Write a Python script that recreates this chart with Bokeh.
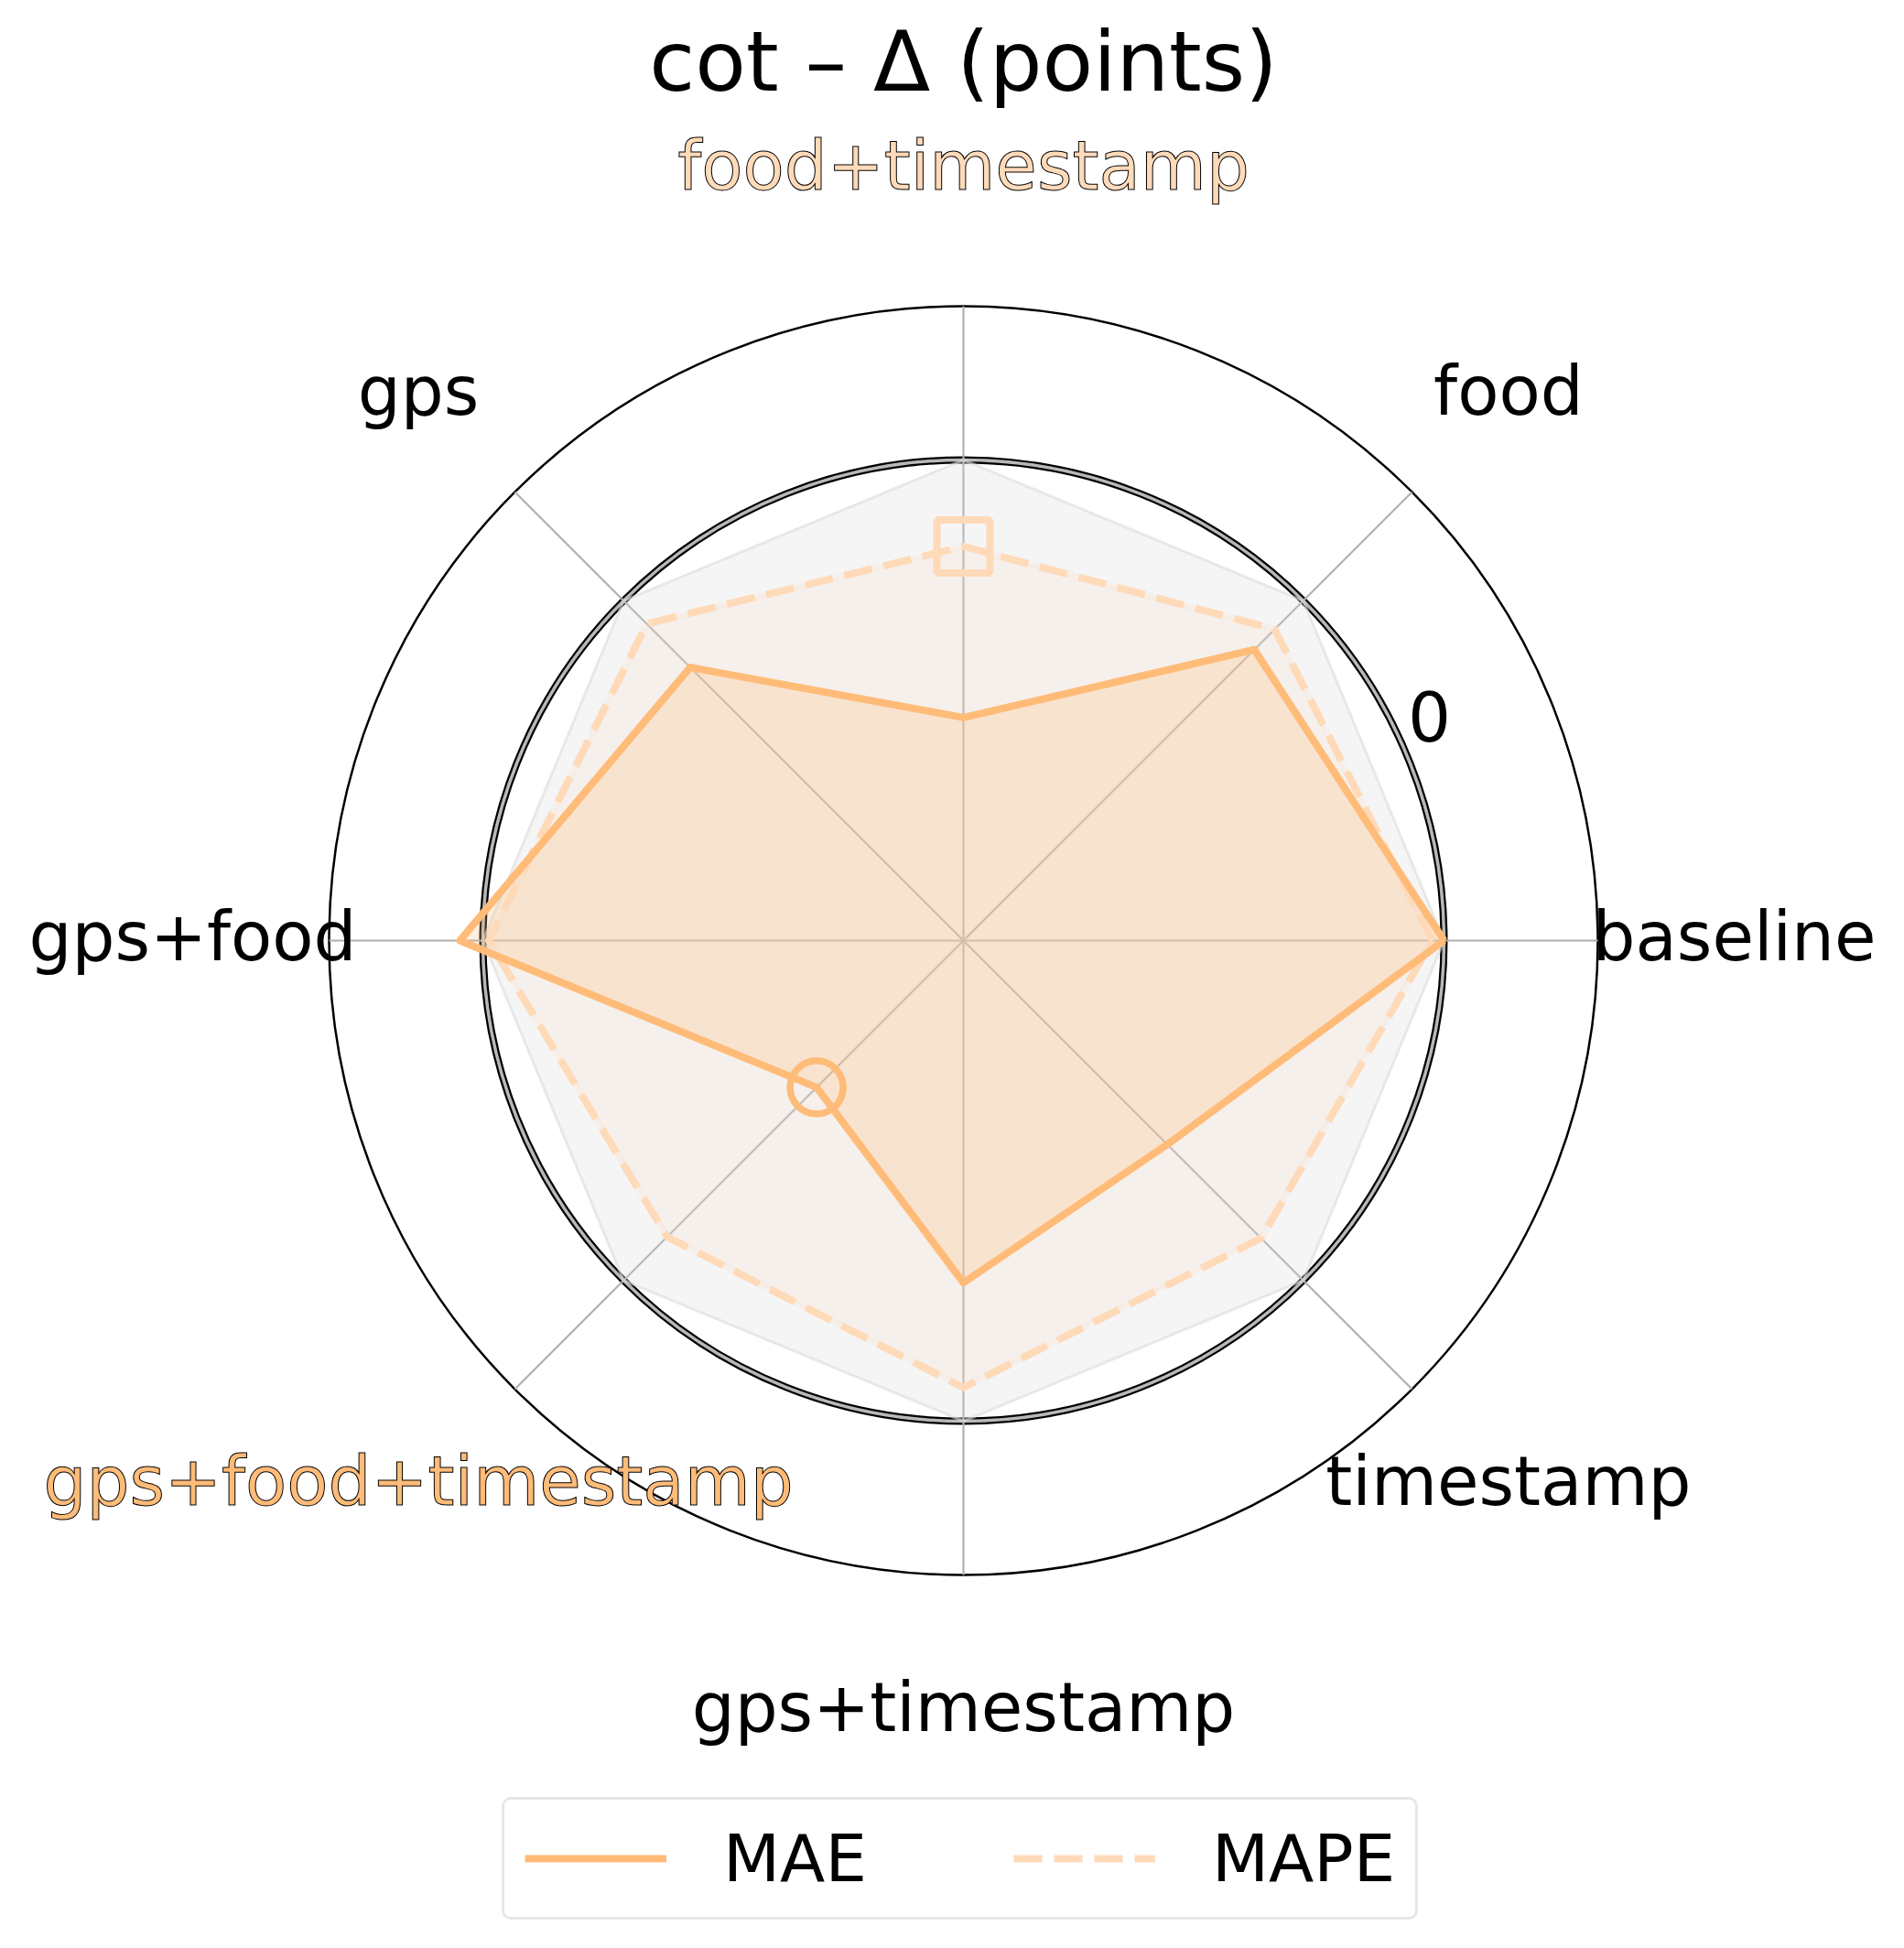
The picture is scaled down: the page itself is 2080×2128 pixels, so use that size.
import numpy as np
from bokeh.plotting import figure
from bokeh.models import Range1d, Legend, LegendItem
from bokeh.core.properties import value
from bokeh.embed import file_html
from bokeh.resources import INLINE

# ---------------- data ----------------
categories = ["baseline", "food", "food+timestamp", "gps", "gps+food",
              "gps+food+timestamp", "gps+timestamp", "timestamp"]
mae_delta = [0.0, -3.6, -13.4, -4.9, 1.2, -14.2, -7.2, -10.0]
mape_delta = [-0.6, -2.1, -4.5, -1.7, -0.3, -3.2, -1.75, -3.1]
reference_delta = [0.0] * 8
radial_ticks = [0]
radial_tick_labels = ["0"]
series_names = ["MAE", "MAPE"]
title_text = "cot – Δ (points)"

# ---------------- style ----------------
MAE_COLOR = "#FFBB78"
MAPE_COLOR = "#FFDAB9"
FONT_NAME = "DejaVu Sans"
FONT = value(FONT_NAME)
W, H = 2064, 2112
CX, CY = 1052, 1027          # polar centre inside the figure (px from left / top)
R_OUT = 693                  # outer circle radius, px
RMIN, RMAX = -25.0, 8.0      # radial data limits
LABEL_R = 842                # radius of category labels, px
LABEL_DY = 5                 # small upward nudge of labels, px

theta = np.arange(len(categories)) * 2 * np.pi / len(categories)


def rad(v):
    return (np.asarray(v, dtype=float) - RMIN) / (RMAX - RMIN) * R_OUT


def to_xy(vals):
    r = rad(vals)
    return r * np.cos(theta), r * np.sin(theta)


def closed(a):
    a = list(a)
    return a + a[:1]


p = figure(width=W, height=H, x_range=Range1d(-CX, W - CX),
           y_range=Range1d(-(H - CY), CY), output_backend="svg",
           toolbar_location=None, min_border=0)
p.axis.visible = False
p.grid.visible = False
p.outline_line_color = None
p.background_fill_color = "white"

# zero reference circle (double line)
r0 = float(rad(radial_ticks[0]))
p.circle(x=[0], y=[0], radius=r0, fill_color=None, line_color="black", line_width=8)
p.circle(x=[0], y=[0], radius=r0, fill_color=None, line_color="#b8b8b8", line_width=3.5)

# outer circle
p.circle(x=[0], y=[0], radius=R_OUT, fill_color=None, line_color="black", line_width=2.5)

# spokes
p.segment(x0=np.zeros(len(theta)), y0=np.zeros(len(theta)),
          x1=R_OUT * np.cos(theta), y1=R_OUT * np.sin(theta),
          line_color="#b0b0b0", line_width=2.2)

# reference octagon
rx, ry = to_xy(reference_delta)
p.patch(closed(rx), closed(ry), fill_color="#d6d6d6", fill_alpha=0.25,
        line_color="#dcdcdc", line_alpha=0.6, line_width=3)

# MAPE fill + MAE fill
px_, py_ = to_xy(mape_delta)
mx_, my_ = to_xy(mae_delta)
p.patch(closed(px_), closed(py_), fill_color=MAPE_COLOR, fill_alpha=0.15,
        line_color=MAPE_COLOR, line_alpha=0.15, line_width=7)
p.patch(closed(mx_), closed(my_), fill_color=MAE_COLOR, fill_alpha=0.25,
        line_color=MAE_COLOR, line_alpha=0.25, line_width=7)

# lines
mape_line = p.line(closed(px_), closed(py_), line_color=MAPE_COLOR, line_width=8,
                   line_dash="31 13", line_join="round")
mae_line = p.line(closed(mx_), closed(my_), line_color=MAE_COLOR, line_width=8,
                  line_join="round")

# best markers
i_mae = int(np.argmin(mae_delta))
i_mape = int(np.argmin(mape_delta))
p.scatter(x=[mx_[i_mae]], y=[my_[i_mae]], marker="circle", size=58,
          fill_color=None, line_color=MAE_COLOR, line_width=7.5)
p.scatter(x=[px_[i_mape]], y=[py_[i_mape]], marker="square", size=58,
          fill_color=None, line_color=MAPE_COLOR, line_width=8)

# category labels
lx = LABEL_R * np.cos(theta)
ly = LABEL_R * np.sin(theta) + LABEL_DY
plain = [i for i in range(len(categories)) if i not in (i_mae, i_mape)]
p.text(x=[lx[i] for i in plain], y=[ly[i] for i in plain],
       text=[categories[i] for i in plain], text_align="center",
       text_baseline="middle", text_font=FONT, text_font_size="74px",
       text_color="black")
p.text(x=[lx[i_mae], lx[i_mape]], y=[ly[i_mae], ly[i_mape]],
       text=[categories[i_mae], categories[i_mape]], text_align="center",
       text_baseline="middle", text_font=FONT, text_font_size="74px",
       text_color=[MAE_COLOR, MAPE_COLOR], text_outline_color="black")

# radial tick label
ang0 = np.deg2rad(25.7)
p.text(x=[(r0 + 40) * np.cos(ang0)], y=[(r0 + 40) * np.sin(ang0)],
       text=radial_tick_labels, text_align="center", text_baseline="middle",
       text_font=FONT, text_font_size="74px", text_color="black")

# title
p.text(x=[0], y=[CY - 67], text=[title_text], text_align="center",
       text_baseline="middle", text_font=FONT, text_font_size="91px",
       text_color="black")

# legend
legend = Legend(items=[LegendItem(label=series_names[0], renderers=[mae_line]),
                       LegendItem(label=series_names[1], renderers=[mape_line])],
                orientation="horizontal", location=(548, 15),
                glyph_width=155, glyph_height=40, label_standoff=62, spacing=160,
                padding=22, margin=0,
                label_text_font=FONT_NAME, label_text_font_size="72px",
                label_text_color="black",
                border_line_color="#d0d0d0", border_line_width=3,
                background_fill_color="white", background_fill_alpha=1.0)
if "border_radius" in Legend.properties():
    legend.border_radius = 10
p.add_layout(legend, "center")

open("out.html", "w").write(file_html(p, INLINE))
